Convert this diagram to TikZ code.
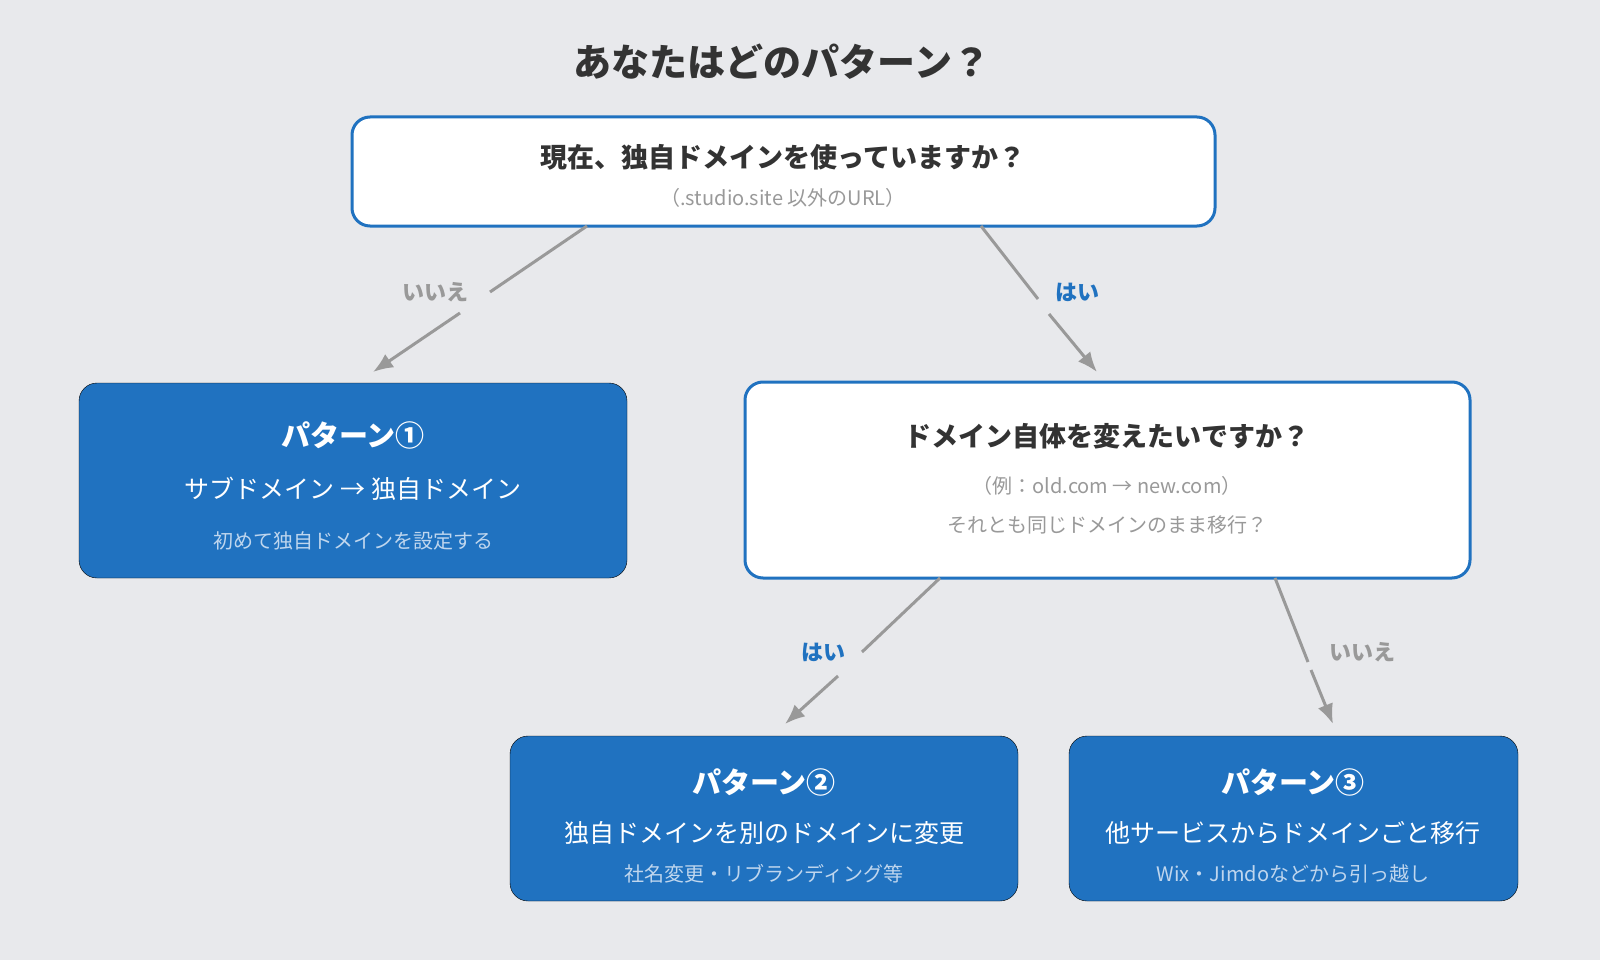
\documentclass[tikz,border=0pt]{standalone}
\usepackage{fontspec}
\setmainfont{Noto Sans CJK JP}
\usetikzlibrary{arrows.meta}
\definecolor{bg}{HTML}{E8E9EC}
\definecolor{bl}{HTML}{2072C0}
\definecolor{dk}{HTML}{333333}
\definecolor{gr}{HTML}{999999}
\definecolor{lb}{HTML}{BFD6EE}
\tikzset{x=1pt,y=-1pt,
 q/.style={draw=bl,line width=3pt,fill=white,rounded corners=18pt},
 p/.style={fill=bl,rounded corners=18pt},
 ln/.style={draw=gr,line width=3pt},
 ar/.style={ln,-{Latex[length=20pt,width=16pt]}},
 lab/.style={inner sep=0pt,font=\fontsize{22}{22}\selectfont\bfseries},
 t/.style={inner sep=0pt}}
\begin{document}
\begin{tikzpicture}
\fill[bg] (0,0) rectangle (1600,960);
\node[t,text=dk,font=\fontsize{38}{38}\selectfont\bfseries] (title) at (782,62) {あなたはどのパターン？};
\draw[q] (352,117) rectangle (1215,226);
\node[t,text=dk,font=\fontsize{27}{27}\selectfont\bfseries] (q1) at (783,157) {現在、独自ドメインを使っていますか？};
\node[t,text=gr,font=\fontsize{20}{20}\selectfont] (q1s) at (783,198) {（.studio.site 以外のURL）};
\draw[p] (79,383) rectangle (627,578);
\node[t,text=white,font=\fontsize{29}{29}\selectfont\bfseries] (p1) at (353,435) {パターン①};
\node[t,text=white,font=\fontsize{25}{25}\selectfont] (p1a) at (353,489) {サブドメイン → 独自ドメイン};
\node[t,text=lb,font=\fontsize{20}{20}\selectfont] (p1b) at (353,541) {初めて独自ドメインを設定する};
\draw[q] (745,382) rectangle (1470,578);
\node[t,text=dk,font=\fontsize{27}{27}\selectfont\bfseries] (q2) at (1107,436) {ドメイン自体を変えたいですか？};
\node[t,text=gr,font=\fontsize{20}{20}\selectfont] (q2a) at (1107,486) {（例：old.com → new.com）};
\node[t,text=gr,font=\fontsize{20}{20}\selectfont] (q2b) at (1107,525) {それとも同じドメインのまま移行？};
\draw[p] (510,736) rectangle (1018,901);
\node[t,text=white,font=\fontsize{29}{29}\selectfont\bfseries] (p2) at (764,782) {パターン②};
\node[t,text=white,font=\fontsize{25}{25}\selectfont] (p2a) at (764,833) {独自ドメインを別のドメインに変更};
\node[t,text=lb,font=\fontsize{20}{20}\selectfont] (p2b) at (764,874) {社名変更・リブランディング等};
\draw[p] (1069,736) rectangle (1518,901);
\node[t,text=white,font=\fontsize{29}{29}\selectfont\bfseries] (p3) at (1293,782) {パターン③};
\node[t,text=white,font=\fontsize{25}{25}\selectfont] (p3a) at (1293,833) {他サービスからドメインごと移行};
\node[t,text=lb,font=\fontsize{20}{20}\selectfont] (p3b) at (1293,874) {Wix・Jimdoなどから引っ越し};
\coordinate (a1) at (587,226); \coordinate (ag1) at (490,292); \coordinate (ag2) at (460,313); \coordinate (a2) at (373,372);
\coordinate (b1) at (981,226); \coordinate (bg1) at (1038,299); \coordinate (bg2) at (1049,314); \coordinate (b2) at (1097,372);
\coordinate (c1) at (940,578); \coordinate (cg1) at (862,652); \coordinate (cg2) at (838,676); \coordinate (c2) at (785,724);
\coordinate (d1) at (1275,578); \coordinate (dg1) at (1308,662); \coordinate (dg2) at (1311,670); \coordinate (d2) at (1333,724);
\draw[ln] (a1) -- (ag1); \draw[ar] (ag2) -- (a2);
\draw[ln] (b1) -- (bg1); \draw[ar] (bg2) -- (b2);
\draw[ln] (c1) -- (cg1); \draw[ar] (cg2) -- (c2);
\draw[ln] (d1) -- (dg1); \draw[ar] (dg2) -- (d2);
\node[lab,text=gr] (l1) at (435,292) {いいえ};
\node[lab,text=bl] (l2) at (1077,292) {はい};
\node[lab,text=bl] (l3) at (823,652) {はい};
\node[lab,text=gr] (l4) at (1362,652) {いいえ};
\end{tikzpicture}
\end{document}
